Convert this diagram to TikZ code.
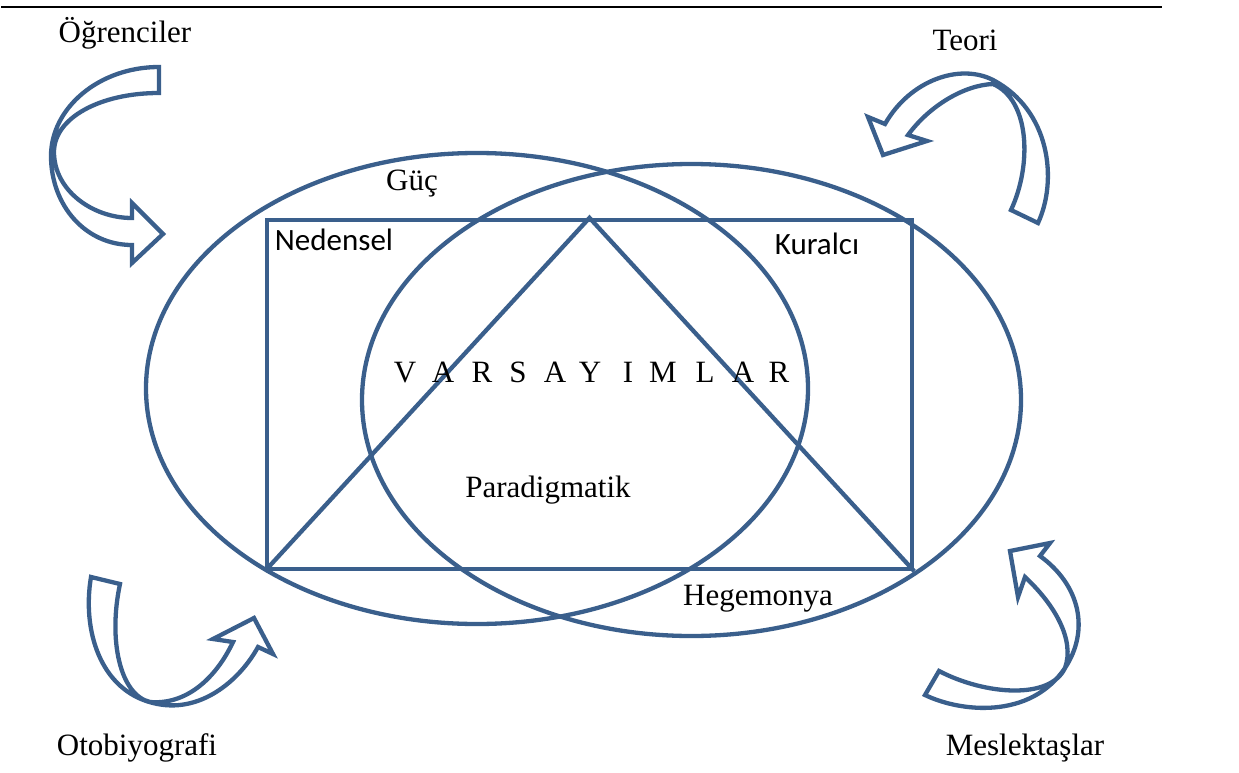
\documentclass[tikz,border=0pt]{standalone}
\usepackage{fontspec}
\setmainfont{Liberation Serif}
\newfontfamily\calfont{Carlito}
\usetikzlibrary{shapes.geometric}
\definecolor{bl}{RGB}{58,95,140}
\tikzset{
  shp/.style={draw=bl, line width=4.3pt, line join=miter},
  lbl/.style={font=\fontsize{31}{36}\selectfont, inner sep=0pt, anchor=base},
  slbl/.style={font=\calfont\fontsize{31}{36}\selectfont, inner sep=0pt, anchor=base},
  ell/.style={shp, ellipse, inner sep=0pt, minimum width=#1},
}
\begin{document}
\begin{tikzpicture}[x=1pt,y=-1pt]
\useasboundingbox (0,0) rectangle (1239,773);
% top rule
\draw[line width=2pt] (1,7) -- (1162,7);
% ellipses
\node[ell=662, minimum height=471] (e1) at (477,388.5) {};
\node[ell=659, minimum height=472] (e2) at (691.5,400) {};
% rectangle and triangle
\node[shp, rectangle, inner sep=0pt, minimum width=645, minimum height=349] (r) at (589.5,394.5) {};
\draw[shp] (r.south west) -- (r.north) -- (r.south east);
% curved arrows
% Ogrenciler
\draw[shp] (159,67) .. controls (99,67) and (51,108) .. (51,156)
  .. controls (51,205) and (85,245) .. (132,245)
  -- (132,263) -- (163,234) -- (132,203) -- (132,218)
  .. controls (92,218) and (54,190) .. (54,152)
  .. controls (54,118) and (100,93) .. (159,93) -- cycle;
% Teori
\draw[shp] (1038,223) .. controls (1058,180) and (1050,110) .. (993,80)
  .. controls (960,63) and (910,80) .. (885,124)
  -- (868,117) -- (883,155) -- (927,141) -- (908,135)
  .. controls (930,105) and (965,85) .. (993,84)
  .. controls (1030,100) and (1032,165) .. (1011,210) -- cycle;
% Otobiyografi
\draw[shp] (91,577) .. controls (82,630) and (100,690) .. (153,703)
  .. controls (200,715) and (240,680) .. (258,647)
  -- (273,654) -- (254,618) -- (213,639) -- (233,642)
  .. controls (215,680) and (185,705) .. (150,702)
  .. controls (120,695) and (108,640) .. (120,584) -- cycle;
% Meslektaslar
\draw[shp] (925,695) .. controls (960,712) and (1030,720) .. (1065,668)
  .. controls (1090,630) and (1080,585) .. (1040,556)
  -- (1050,543) -- (1010,551) -- (1018,597) -- (1025,577)
  .. controls (1055,605) and (1075,640) .. (1065,668)
  .. controls (1050,700) and (985,695) .. (939,671) -- cycle;
% labels
\node[lbl] (t1) at (125,43) {Öğrenciler};
\node[lbl] (t2) at (965,51) {Teori};
\node[lbl] (t3) at (137,755) {Otobiyografi};
\node[lbl] (t4) at (1025,755) {Meslektaşlar};
\node[lbl] (g) at (412,190) {Güç};
\node[slbl] (n) at (334,250) {Nedensel};
\node[slbl] (k) at (817,254) {Kuralcı};
\node[lbl] (p) at (548,497) {Paradigmatik};
\node[lbl] (h) at (758,605) {Hegemonya};
\foreach \c/\x [count=\i] in {V/405,A/443,R/482,S/518,A/555,Y/590,I/628,M/663,L/705,A/743,R/779}
  \node[lbl] (v\i) at (\x,382) {\c};
\end{tikzpicture}
\end{document}
